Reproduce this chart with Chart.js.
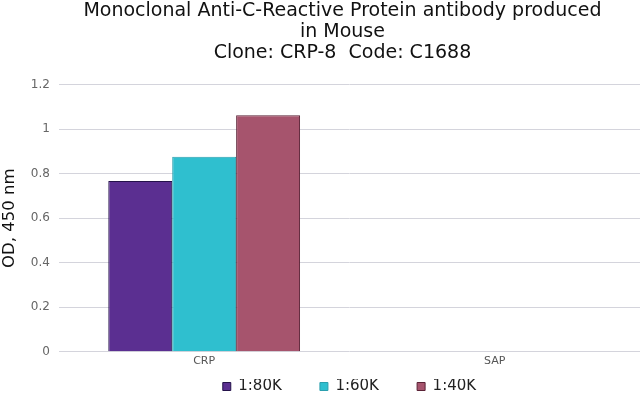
<!DOCTYPE html>
<html>
<head>
<meta charset="utf-8">
<script src="https://cdn.jsdelivr.net/npm/chart.js@4.4.0/dist/chart.umd.min.js"></script>
<style>
  html, body { margin: 0; padding: 0; background: #fff; }
  #wrap { width: 640px; height: 398px; }
</style>
</head>
<body>
<div id="wrap"><canvas id="odChart"></canvas></div>
<script>
// data
const categories = ['CRP', 'SAP'];
const dilutions = ['1:80K', '1:60K', '1:40K'];
const od80k = [0.767, 0];
const od60k = [0.876, 0];
const od40k = [1.063, 0];
const yTicks = [0, 0.2, 0.4, 0.6, 0.8, 1, 1.2];

const fills = ['#5b2f91', '#2fbfcf', '#a6546d'];
const borders = ['#24124a', '#2a9fae', '#5a2236'];
const FONT = "'DejaVu Sans', Verdana, sans-serif";

// legend box comes out a bit taller than the picture's, trim it so it sits lower;
// the title sits a little left of the plot centre in the picture
const layoutTweaks = {
    id: 'layoutTweaks',
    beforeLayout(chart) {
        const legend = chart.legend;
        if (!legend || legend._trimmed) return;
        const fit = legend.fit;
        legend.fit = function () { fit.call(this); this.height -= 6; };
        legend._trimmed = true;
    },
    afterLayout(chart) {
        const t = chart.titleBlock;
        if (t) { t.left -= 7; t.right -= 7; }
    }
};

const ctx = document.getElementById('odChart').getContext('2d');
new Chart(ctx, {
    type: 'bar',
    plugins: [layoutTweaks],
    data: {
        labels: categories,
        datasets: [od80k, od60k, od40k].map((vals, i) => ({
            label: dilutions[i],
            data: vals,
            backgroundColor: fills[i],
            borderColor: borders[i],
            borderWidth: 1,
            categoryPercentage: 0.66,
            barPercentage: 1
        }))
    },
    options: {
        responsive: true,
        maintainAspectRatio: false,
        animation: false,
        layout: { padding: 0 },
        plugins: {
            title: {
                display: true,
                fullSize: false,
                text: ['Monoclonal Anti-C-Reactive Protein antibody produced', 'in Mouse', 'Clone: CRP-8  Code: C1688'],
                color: '#111',
                font: { family: FONT, size: 19, weight: 'normal', lineHeight: 1.1 },
                padding: { top: 1, bottom: 21 }
            },
            legend: {
                position: 'bottom',
                fullSize: false,
                labels: {
                    color: '#222',
                    boxWidth: 8,
                    boxHeight: 8,
                    padding: 0,
                    font: { family: FONT, size: 15 },
                    // pad the first two labels so the items sit as far apart as in the picture
                    generateLabels: chart => Chart.defaults.plugins.legend.labels.generateLabels(chart)
                        .map((item, i, all) => {
                            if (i < all.length - 1) item.text = item.text + '        ';
                            return item;
                        })
                }
            },
            tooltip: { enabled: false }
        },
        scales: {
            x: {
                grid: { display: false, drawTicks: false },
                border: { display: false },
                ticks: { color: '#555', padding: 3, font: { family: FONT, size: 11 } },
                afterFit: axis => { axis.height += 8; }
            },
            y: {
                min: 0,
                max: 1.2,
                afterBuildTicks: axis => { axis.ticks = yTicks.map(v => ({ value: v })); },
                grid: { color: '#d4d4dc', drawTicks: false },
                border: { display: false },
                ticks: {
                    color: '#666',
                    padding: 9,
                    font: { family: FONT, size: 12 },
                    callback: v => String(+v.toFixed(1))
                },
                title: {
                    display: true,
                    text: 'OD, 450 nm',
                    color: '#111',
                    font: { family: FONT, size: 16.5 },
                    padding: { top: 0, bottom: 2 }
                }
            }
        }
    }
});
</script>
</body>
</html>
